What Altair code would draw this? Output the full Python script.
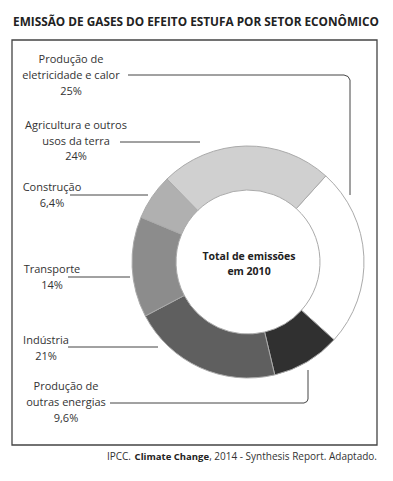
import math
import altair as alt
import pandas as pd

# ---- data ----
setores = ["Produção de\neletricidade e calor", "Produção de\noutras energias", "Indústria",
           "Transporte", "Construção", "Agricultura e outros\nusos da terra"]
percent = [25, 9.6, 21, 14, 6.4, 24]
percent_txt = ["25%", "9,6%", "21%", "14%", "6,4%", "24%"]
cores = ["#ffffff", "#303030", "#5f5f5f", "#8c8c8c", "#b0b0b0", "#d0d0d0"]
titulo = "EMISSÃO DE GASES DO EFEITO ESTUFA POR SETOR ECONÔMICO"
centro = ["Total de emissões", "em 2010"]
fonte = ["IPCC.", "Climate Change", ", 2014 - Synthesis Report. Adaptado."]

# ---- layout (page pixel coordinates) ----
W, H = 377, 465
M = 8
CX, CY = 248, 262
R_OUT, R_IN = 116, 72
START = 0.735

def px(x):
    return x - M

# label anchors: (center x, first line y, line height)
label_pos = [(71, 60, 16), (66, 387, 16), (46, 341, 16), (52, 270, 16), (52, 188, 16), (76, 126, 15.5)]
# leader line paths
leaders = [
    [(128, 75), (344, 75), (348, 76.5), (350, 80), (350, 195)],
    [(110, 403), (304, 403), (307, 401.5), (308, 399), (308, 370)],
    [(68, 347), (158, 347)],
    [(68, 277), (130, 277)],
    [(70, 195), (148, 195)],
    [(120, 142), (200, 142)],
]

xs = alt.Scale(domain=[0, W], range=[0, W])
ys = alt.Scale(domain=[0, H], range=[0, H])

# arc
arc_df = pd.DataFrame({"setor": setores, "valor": percent, "ordem": list(range(len(setores)))})
arc = alt.Chart(arc_df).mark_arc(innerRadius=R_IN, outerRadius=R_OUT, stroke="#aaaaaa",
                                 strokeWidth=1).encode(
    theta=alt.Theta("valor:Q", stack=True, scale=alt.Scale(range=[START, START + 2 * math.pi])),
    color=alt.Color("setor:N", scale=alt.Scale(domain=setores, range=cores), legend=None),
    order=alt.Order("ordem:Q"),
    x=alt.value(px(CX)), y=alt.value(px(CY)),
)

# labels (one row per line)
rows = []
for i, (s, p) in enumerate(zip(setores, percent_txt)):
    cx, y0, lh = label_pos[i]
    for j, line in enumerate(s.split("\n") + [p]):
        rows.append({"x": px(cx), "y": px(y0 + j * lh), "t": line})
lab_df = pd.DataFrame(rows)
labels = alt.Chart(lab_df).mark_text(font="Open Sans", fontSize=11, color="#333333",
                                     align="center", baseline="middle").encode(
    x=alt.X("x:Q", scale=xs, axis=None), y=alt.Y("y:Q", scale=ys, axis=None), text="t:N")

# leader lines
lrows = []
for i, path in enumerate(leaders):
    for k, (x, y) in enumerate(path):
        lrows.append({"x": px(x), "y": px(y), "g": i, "k": k})
lead_df = pd.DataFrame(lrows)
lines = alt.Chart(lead_df).mark_line(color="#444444", strokeWidth=1).encode(
    x=alt.X("x:Q", scale=xs, axis=None), y=alt.Y("y:Q", scale=ys, axis=None),
    detail="g:N", order="k:Q")

# frame
frame = alt.Chart(pd.DataFrame({"a": [0]})).mark_rect(fillOpacity=0, stroke="#444444",
                                                       strokeWidth=1.3).encode(
    x=alt.value(px(12)), x2=alt.value(px(377)), y=alt.value(px(40)), y2=alt.value(px(445)))

# title
title_df = pd.DataFrame({"x": [px(196)], "y": [px(22)], "t": [titulo]})
title = alt.Chart(title_df).mark_text(font="Open Sans", fontSize=11.8, fontWeight="bold",
                                      color="#222222", align="center", baseline="middle").encode(
    x=alt.X("x:Q", scale=xs, axis=None), y=alt.Y("y:Q", scale=ys, axis=None), text="t:N")

# center text
c_df = pd.DataFrame({"x": [px(CX + 1)] * 2, "y": [px(257), px(272)], "t": centro})
ctext = alt.Chart(c_df).mark_text(font="Open Sans", fontSize=10.5, fontWeight="bold",
                                  color="#222222", align="center", baseline="middle").encode(
    x=alt.X("x:Q", scale=xs, axis=None), y=alt.Y("y:Q", scale=ys, axis=None), text="t:N")

# source: three pieces, each right-aligned at its end
f_df = pd.DataFrame({"x": [px(131), px(209), px(377)], "y": [px(457)] * 3, "t": fonte,
                     "w": ["normal", "bold", "normal"]})
src_n = alt.Chart(f_df[f_df.w == "normal"]).mark_text(font="Open Sans", fontSize=10, color="#333333",
                                                   align="right", baseline="middle").encode(
    x=alt.X("x:Q", scale=xs, axis=None), y=alt.Y("y:Q", scale=ys, axis=None), text="t:N")
src_b = alt.Chart(f_df[f_df.w == "bold"]).mark_text(font="Open Sans", fontSize=9.5, fontWeight="bold",
                                                 color="#222222", align="right", baseline="middle").encode(
    x=alt.X("x:Q", scale=xs, axis=None), y=alt.Y("y:Q", scale=ys, axis=None), text="t:N")

chart = alt.layer(frame, lines, arc, labels, ctext, title, src_n, src_b).properties(
    width=W, height=H, padding=0, autosize=alt.AutoSizeParams(type="none"),
    background="white").configure_view(stroke=None).resolve_scale(color="independent")

chart.save("out.html", embed_options={"renderer": "svg", "actions": False})
